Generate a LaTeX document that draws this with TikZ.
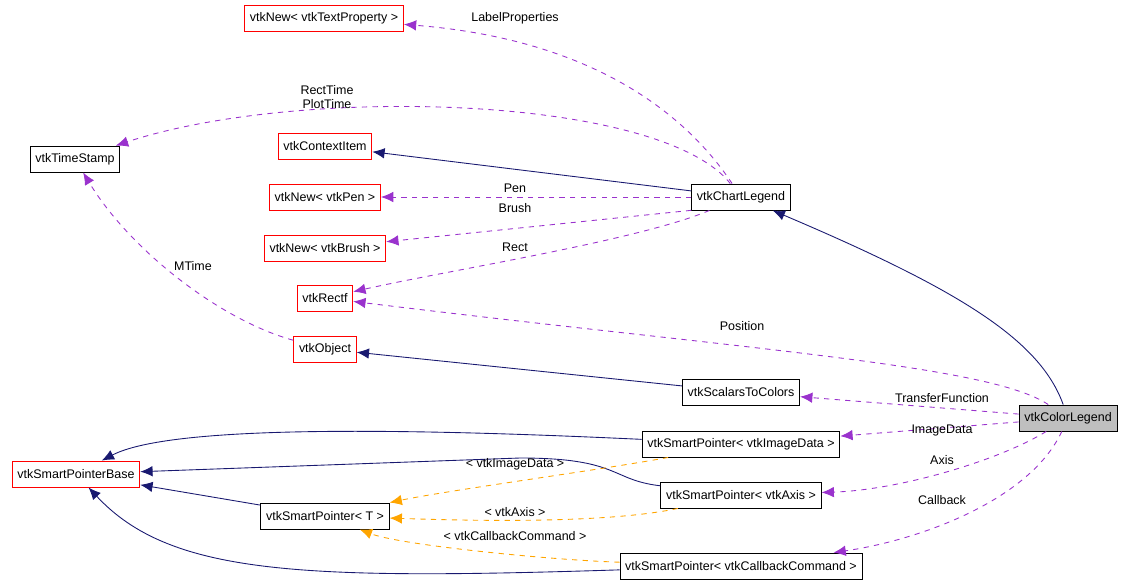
\documentclass[tikz,border=0pt]{standalone}
\usepackage{fontspec}
\setmainfont{Liberation Sans}
\usetikzlibrary{arrows.meta, positioning}

\definecolor{navyedge}{HTML}{191970}
\definecolor{usedge}{HTML}{9A32CD}
\definecolor{tpledge}{HTML}{FFA500}

\tikzset{
  cls/.style={draw=black, fill=white, line width=0.5pt, minimum height=0.52cm, inner xsep=3pt, font=\fontsize{7.1}{8}\selectfont},
  undoc/.style={cls, draw=red},
  cur/.style={cls, fill=black!25},
  inh/.style={navyedge, line width=0.5pt, -{Latex[length=7pt,width=6pt]}},
  use/.style={usedge, dashed, line width=0.5pt, -{Latex[length=7pt,width=6pt]}},
  tpl/.style={tpledge, dashed, line width=0.5pt, -{Latex[length=7pt,width=6pt]}},
  lbl/.style={font=\fontsize{7.1}{8}\selectfont, align=center, inner sep=0pt}
}

\begin{document}
\begin{tikzpicture}[x=0.02cm, y=-0.02cm]
        \useasboundingbox (0,0) rectangle (1128,585);

        \node[undoc] (tprop) at (324,18) {vtkNew< vtkTextProperty >};
        \node[cls] (stamp) at (75,159) {vtkTimeStamp};
        \node[undoc] (citem) at (325,146) {vtkContextItem};
        \node[cls] (chart) at (741,197) {vtkChartLegend};
        \node[undoc] (pen) at (325,197) {vtkNew< vtkPen >};
        \node[undoc] (brush) at (325,248) {vtkNew< vtkBrush >};
        \node[undoc] (rectf) at (325,298) {vtkRectf};
        \node[undoc] (obj) at (325,349) {vtkObject};
        \node[cls] (s2c) at (741,392) {vtkScalarsToColors};
        \node[cur] (color) at (1068,418) {vtkColorLegend};
        \node[cls] (spimg) at (741,444) {vtkSmartPointer< vtkImageData >};
        \node[undoc] (spbase) at (76,474) {vtkSmartPointerBase};
        \node[cls] (spaxis) at (741,495) {vtkSmartPointer< vtkAxis >};
        \node[cls] (spt) at (325,516) {vtkSmartPointer< T >};
        \node[cls] (spcb) at (741,566) {vtkSmartPointer< vtkCallbackCommand >};

        % inheritance
        \draw[inh] (chart) -- (citem);
        \draw[inh] (color) .. controls (1040,340) and (960,290) .. (chart);
        \draw[inh] (s2c) -- (obj);
        \draw[inh] (spimg) .. controls (400,428) and (170,425) .. (spbase);
        \draw[inh] (spaxis) .. controls (610,480) and (620,458) .. (520,458) -- (spbase);
        \draw[inh] (spt) -- (spbase);
        \draw[inh] (spcb) .. controls (300,580) and (170,575) .. (spbase);

        % usage
        \draw[use] (chart) .. controls (690,120) and (600,40) .. (tprop);
        \draw[use] (chart) .. controls (660,95) and (300,85) .. (stamp);
        \draw[use] (chart) -- (pen);
        \draw[use] (chart.195) -- (brush);
        \draw[use] (chart) .. controls (640,240) and (450,270) .. (rectf);
        \draw[use] (obj) .. controls (220,320) and (130,250) .. (stamp);
        \draw[use] (color) .. controls (990,365) and (750,350) .. (rectf);
        \draw[use] (color) -- (s2c);
        \draw[use] (color) -- (spimg);
        \draw[use] (color) .. controls (1000,460) and (900,490) .. (spaxis);
        \draw[use] (color) .. controls (1030,500) and (920,540) .. (spcb);

        % template instances
        \draw[tpl] (spimg) .. controls (600,470) and (450,490) .. (spt);
        \draw[tpl] (spaxis) .. controls (600,525) and (450,520) .. (spt);
        \draw[tpl] (spcb) .. controls (550,560) and (400,545) .. (spt);

        % labels
        \node[lbl] (l1) at (515,18) {LabelProperties};
        \node[lbl] (l2) at (327,97) {RectTime\\PlotTime};
        \node[lbl] (l3) at (515,188) {Pen};
        \node[lbl] (l4) at (515,208) {Brush};
        \node[lbl] (l5) at (515,247) {Rect};
        \node[lbl] (l6) at (193,266) {MTime};
        \node[lbl] (l7) at (742,326) {Position};
        \node[lbl] (l8) at (942,398) {TransferFunction};
        \node[lbl] (l9) at (942,430) {ImageData};
        \node[lbl] (l10) at (942,460) {Axis};
        \node[lbl] (l11) at (942,500) {Callback};
        \node[lbl] (l12) at (515,464) {< vtkImageData >};
        \node[lbl] (l13) at (515,512) {< vtkAxis >};
        \node[lbl] (l14) at (515,536) {< vtkCallbackCommand >};
      \end{tikzpicture}
\end{document}
